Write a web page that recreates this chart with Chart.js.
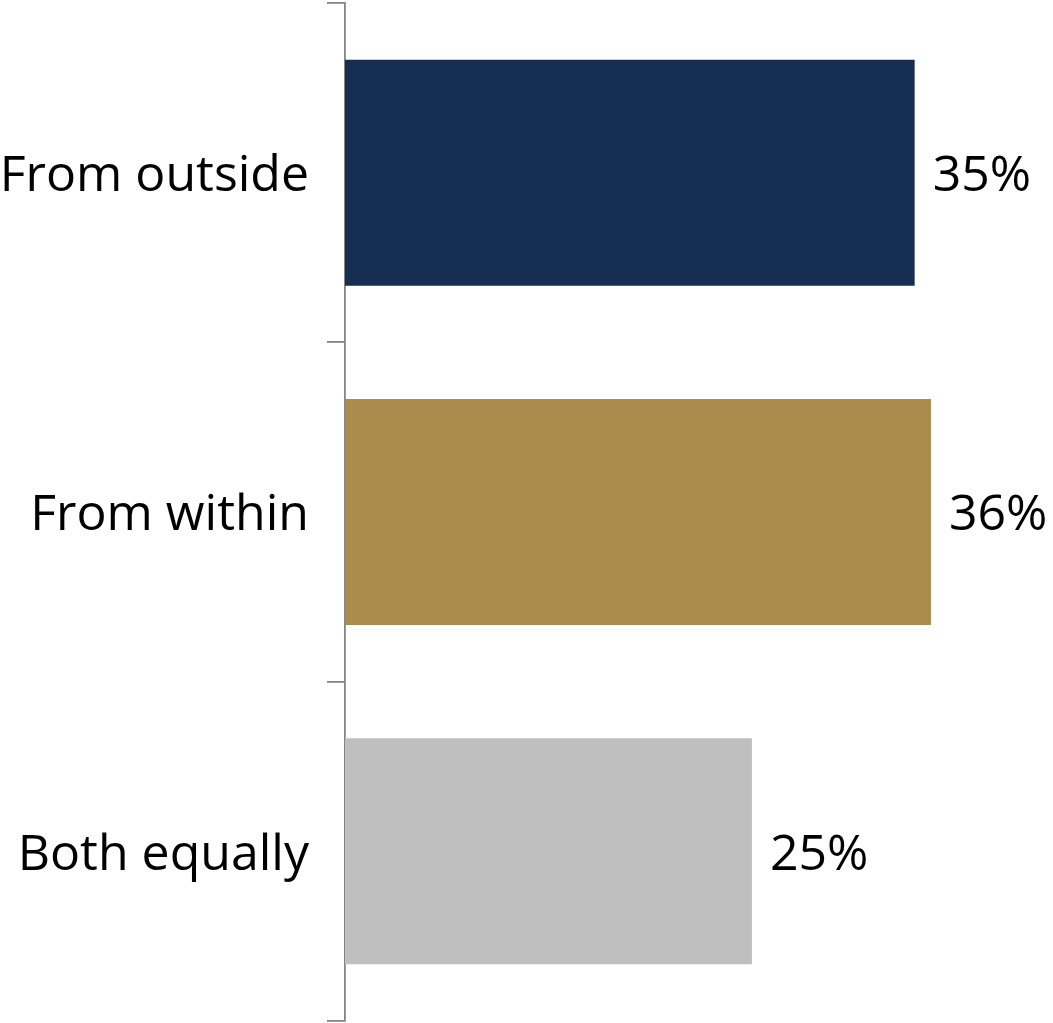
<!DOCTYPE html>
<html>
<head>
<meta charset="utf-8">
<script src="https://cdn.jsdelivr.net/npm/chart.js@4"></script>
<style>
  html, body { margin: 0; padding: 0; background: #fff; }
  #wrap { width: 1053px; height: 1023px; position: relative; }
</style>
</head>
<body>
<div id="wrap"><canvas id="myChart"></canvas></div>
<script>
const categories = ['From outside', 'From within', 'Both equally'];
const shares = [35, 36, 25];
const barColors = ['#142F51', '#AB8C4C', '#BFBFBF'];

const labelFont = { family: "'Open Sans', 'Noto Sans', sans-serif", size: 50 };

// draws the "35%" style labels just past the end of each bar
const valueLabels = {
    id: 'valueLabels',
    afterDatasetsDraw(chart) {
        const ctx = chart.ctx;
        const meta = chart.getDatasetMeta(0);
        ctx.save();
        ctx.font = labelFont.size + 'px ' + labelFont.family;
        ctx.fillStyle = '#000';
        ctx.textBaseline = 'middle';
        ctx.textAlign = 'left';
        meta.data.forEach((bar, i) => {
            ctx.fillText(shares[i] + '%', bar.x + 18, bar.y + 4);
        });
        ctx.restore();
    }
};

let myChart = document.getElementById('myChart').getContext('2d');

let shareChart = new Chart(myChart, {
    type: 'bar',
    data: {
        labels: categories,
        datasets: [{
            data: shares,
            backgroundColor: barColors,
            categoryPercentage: 1,
            barPercentage: 0.666
        }]
    },
    options: {
        indexAxis: 'y',
        responsive: true,
        maintainAspectRatio: false,
        animation: false,
        layout: { padding: { top: 3, bottom: 2, left: 0, right: 0 } },
        plugins: {
            legend: { display: false },
            tooltip: { enabled: false }
        },
        scales: {
            x: {
                display: false,
                min: 0,
                max: 43.5
            },
            y: {
                afterFit(scale) {
                    scale.width = 345;
                    scale.paddingTop = 0;
                    scale.paddingBottom = 0;
                },
                border: { display: true, color: '#858585', width: 1.8 },
                grid: {
                    offset: true,
                    drawOnChartArea: false,
                    drawTicks: true,
                    tickLength: 18,
                    color: '#858585',
                    lineWidth: 1.8
                },
                ticks: {
                    color: '#000',
                    padding: 18,
                    labelOffset: 4,
                    font: labelFont
                }
            }
        }
    },
    plugins: [valueLabels]
});
</script>
</body>
</html>
